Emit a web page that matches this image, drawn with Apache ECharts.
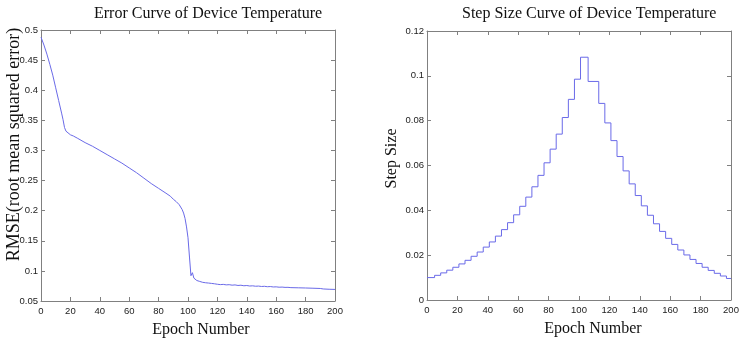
<!DOCTYPE html>
<html><head><meta charset="utf-8">
<script src="https://cdn.jsdelivr.net/npm/echarts@6/dist/echarts.min.js"></script>
<style>html,body{margin:0;padding:0;background:#fff}#c{width:739px;height:345px}</style>
</head><body><div id="c"></div>
<script>
// ---- data ----
const errEpochs = [0,2,4,6,8,10,12,14,15,16,17,18,20,22,25,30,35,40,45,50,55,60,65,70,75,80,85,88,90,92,94,95,96,97,98,99,100,101,102,103,104,105,106,108,110,112,114,116,118,120,122,124,126,128,130,132,134,136,138,140,142,144,146,148,150,152,154,156,158,160,162,164,166,168,170,175,180,185,190,192,196,200];
const errValues = [0.488,0.475,0.460,0.443,0.425,0.404,0.383,0.362,0.351,0.338,0.332,0.329,0.326,0.324,0.320,0.313,0.307,0.300,0.293,0.286,0.279,0.271,0.263,0.254,0.245,0.237,0.229,0.224,0.219,0.215,0.210,0.207,0.202,0.196,0.187,0.173,0.155,0.123,0.092,0.097,0.088,0.0855,0.084,0.0825,0.0810,0.0803,0.0798,0.0792,0.0786,0.0778,0.0772,0.0776,0.0768,0.0771,0.0763,0.0767,0.0758,0.0762,0.0753,0.0757,0.0749,0.0752,0.0745,0.0748,0.0741,0.0744,0.0737,0.0740,0.0733,0.0735,0.0729,0.0731,0.0726,0.0727,0.0722,0.0719,0.0716,0.0712,0.0708,0.0700,0.0695,0.0692];

const stepEpochs = [0,5,9,13,17,21,25,29,33,37,41,45,49,53,57,61,65,69,73,77,81,85,89,93,97,101,106,113,117,121,125,129,133,137,141,145,149,153,157,161,165,169,173,177,181,185,189,193,197,200];
const stepValues = [0.0100,0.0110,0.0121,0.0133,0.0146,0.0161,0.0177,0.0195,0.0214,0.0236,0.0259,0.0285,0.0314,0.0345,0.0380,0.0418,0.0459,0.0505,0.0556,0.0612,0.0673,0.0740,0.0814,0.0895,0.0985,0.1083,0.0975,0.0877,0.0790,0.0711,0.0640,0.0576,0.0518,0.0466,0.0420,0.0378,0.0340,0.0306,0.0275,0.0248,0.0223,0.0201,0.0181,0.0163,0.0146,0.0132,0.0119,0.0107,0.0096,0.0096];

const epochTicks = [0,20,40,60,80,100,120,140,160,180,200];
const errTicks = [0.05,0.1,0.15,0.2,0.25,0.3,0.35,0.4,0.45,0.5];
const stepTicks = [0,0.02,0.04,0.06,0.08,0.1,0.12];

// ---- styling ----
const serif = '"Liberation Serif","Times New Roman",serif';
const sans = '"Liberation Sans",Arial,sans-serif';
const axisColor = '#808080';
const lineColor = '#6a6ae8';

function tickInfo(t){ return {min:t[0], max:t[t.length-1], interval:t[1]-t[0]}; }

function xAxis(grid, pos, labels, name, pad){
  const ti = tickInfo(epochTicks);
  return Object.assign({type:'value', gridIndex:grid, position:pos,
    axisLine:{show:true,onZero:false,lineStyle:{color:axisColor,width:1}},
    axisTick:{show:true,inside:true,length:4,lineStyle:{color:axisColor}},
    axisLabel:{show:labels,color:'#222',fontSize:9.5,fontFamily:sans,margin:5},
    splitLine:{show:false},
    name: name||'', nameLocation:'middle', nameGap:21,
    nameTextStyle:{fontFamily:serif,fontSize:16,color:'#111',padding:pad||0}
  }, ti);
}
function yAxis(grid, pos, labels, ticks, name, gap, pad, fs, noMove){
  const ti = tickInfo(ticks);
  const ax = Object.assign({type:'value', gridIndex:grid, position:pos,
    axisLine:{show:true,onZero:false,lineStyle:{color:axisColor,width:1}},
    axisTick:{show:true,inside:true,length:4,lineStyle:{color:axisColor}},
    axisLabel:{show:labels,color:'#222',fontSize:9.5,fontFamily:sans,margin:3},
    splitLine:{show:false},
    name: name||'', nameLocation:'middle', nameGap:gap||0,
    nameTextStyle:{fontFamily:serif,fontSize:fs||16,color:'#111',padding:pad||0}
  }, ti);
  if (noMove) ax.nameMoveOverlap = false;
  return ax;
}

const chart = echarts.init(document.getElementById('c'), null, {renderer:'canvas'});
chart.setOption({
  backgroundColor:'#fff',
  animation:false,
  title:[
    {text:'Error Curve of Device Temperature', left:89, top:1, textStyle:{fontFamily:serif,fontSize:16,fontWeight:'normal',color:'#111'}},
    {text:'Step Size Curve of Device Temperature', left:457, top:1, textStyle:{fontFamily:serif,fontSize:16,fontWeight:'normal',color:'#111'}}
  ],
  grid:[
    {left:41, right:404, top:30, bottom:44, containLabel:false, outerBoundsMode:'none'},
    {left:427, right:8, top:31, bottom:45, containLabel:false, outerBoundsMode:'none'}
  ],
  xAxis:[
    xAxis(0,'bottom',true,'Epoch Number',[0,0,0,26]),
    xAxis(0,'top',false),
    xAxis(1,'bottom',true,'Epoch Number',[0,0,0,28]),
    xAxis(1,'top',false)
  ],
  yAxis:[
    yAxis(0,'left',true,errTicks,'RMSE(root mean squared error)',18,[0,0,0,42],18,true),
    yAxis(0,'right',false,errTicks),
    yAxis(1,'left',true,stepTicks,'Step Size',27,[0,0,0,14]),
    yAxis(1,'right',false,stepTicks)
  ],
  series:[
    {type:'line', xAxisIndex:0, yAxisIndex:0, showSymbol:false, symbol:'none',
     lineStyle:{color:lineColor,width:1}, data: errEpochs.map((e,i)=>[e,errValues[i]])},
    {type:'line', xAxisIndex:2, yAxisIndex:2, showSymbol:false, symbol:'none', step:'end',
     lineStyle:{color:lineColor,width:1}, data: stepEpochs.map((e,i)=>[e,stepValues[i]])}
  ]
});
</script></body></html>
